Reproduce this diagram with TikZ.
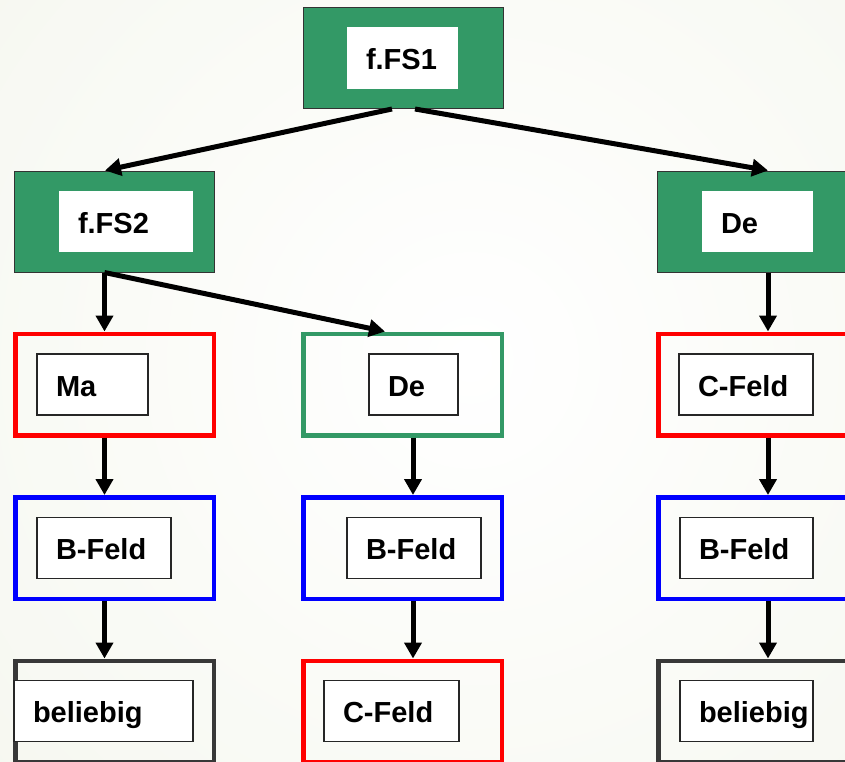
\documentclass[tikz,border=0pt]{standalone}
\usepackage{fontspec}
\setmainfont{Liberation Sans}
\usetikzlibrary{arrows.meta}
\definecolor{fsgreen}{RGB}{51,153,102}
\definecolor{bgcol}{RGB}{237,240,225}
\definecolor{darkframe}{RGB}{56,56,56}
\tikzset{
        fsbox/.style={rectangle, draw=black!80, line width=1pt, fill=fsgreen, minimum width=200pt, minimum height=101pt},
        rahmen/.style={rectangle, draw=#1, line width=4.5pt, minimum width=198.5pt, minimum height=101.5pt},
        feld/.style={rectangle, fill=white, text width=#1, align=left, inner xsep=19pt, inner ysep=0pt,
            minimum height=61pt, text height=26pt, text depth=3pt, font=\bfseries\fontsize{29}{33}\selectfont},
        feldrand/.style={feld=#1, draw=black!85, line width=1.2pt},
        arr/.style={-{Triangle[length=16pt,width=17pt]}, line width=5pt}
}
\begin{document}
\begin{tikzpicture}[x=1pt,y=-1pt]
        \useasboundingbox (0,0) rectangle (845,761);
        \begin{scope}
            \clip (0,0) rectangle (845,761);
            \shade[inner color=white, outer color=bgcol] (470,360) circle (1300);
        \end{scope}
        \node [fsbox] (fsone) at (403,58) {};
        \node [fsbox] (fstwo) at (114.5,221.5) {};
        \node [fsbox] (detop) at (757.5,221.5) {};
        \node [rahmen=red] (ma) at (114.5,384.5) {};
        \node [rahmen=fsgreen] (demid) at (402.5,384.5) {};
        \node [rahmen=red] (cfr) at (757.5,384.5) {};
        \node [rahmen=blue] (bfl) at (114.5,548) {};
        \node [rahmen=blue] (bfm) at (402.5,548) {};
        \node [rahmen=blue] (bfr) at (757.5,548) {};
        \node [rahmen=darkframe] (bell) at (114.5,711.5) {};
        \node [rahmen=red] (cfm) at (402.5,711.5) {};
        \node [rahmen=darkframe] (belr) at (757.5,711.5) {};
        \node [feld=73pt, minimum height=62pt] (fsonei) at (402.5,58) {f.FS1};
        \node [feld=96pt] (fstwoi) at (126,221.5) {f.FS2};
        \node [feld=73pt] (detopi) at (757.5,221.5) {De};
        \node [feldrand=73pt] (mai) at (92.5,384.5) {Ma};
        \node [feldrand=51pt] (demidi) at (413.5,384.5) {De};
        \node [feldrand=96pt] (cfri) at (746,384.5) {C-Feld};
        \node [feldrand=96pt] (bfli) at (104,548) {B-Feld};
        \node [feldrand=96pt] (bfmi) at (414,548) {B-Feld};
        \node [feldrand=95pt] (bfri) at (746.5,548) {B-Feld};
        \node [feldrand=141pt] (belli) at (103.5,711) {beliebig};
        \node [feldrand=97pt] (cfmi) at (391.5,711) {C-Feld};
        \node [feldrand=95pt] (belri) at (746.5,711) {beliebig};
        \path[arr]
            ([xshift=-11pt]fsone.south) edge ([xshift=-9.5pt]fstwo.north)
            ([xshift=12pt]fsone.south) edge ([xshift=10.5pt]detop.north)
            ([xshift=-10pt]fstwo.south) edge ([xshift=-10pt]ma.north)
            ([xshift=-10pt]fstwo.south) edge ([xshift=-17.5pt]demid.north)
            ([xshift=10.5pt]detop.south) edge ([xshift=10.5pt]cfr.north)
            ([xshift=-10pt]ma.south) edge ([xshift=-10pt]bfl.north)
            ([xshift=10.5pt]demid.south) edge ([xshift=10.5pt]bfm.north)
            ([xshift=10.5pt]cfr.south) edge ([xshift=10.5pt]bfr.north)
            ([xshift=-10pt]bfl.south) edge ([xshift=-10pt]bell.north)
            ([xshift=10.5pt]bfm.south) edge ([xshift=10.5pt]cfm.north)
            ([xshift=10.5pt]bfr.south) edge ([xshift=10.5pt]belr.north);
\end{tikzpicture}
\end{document}
